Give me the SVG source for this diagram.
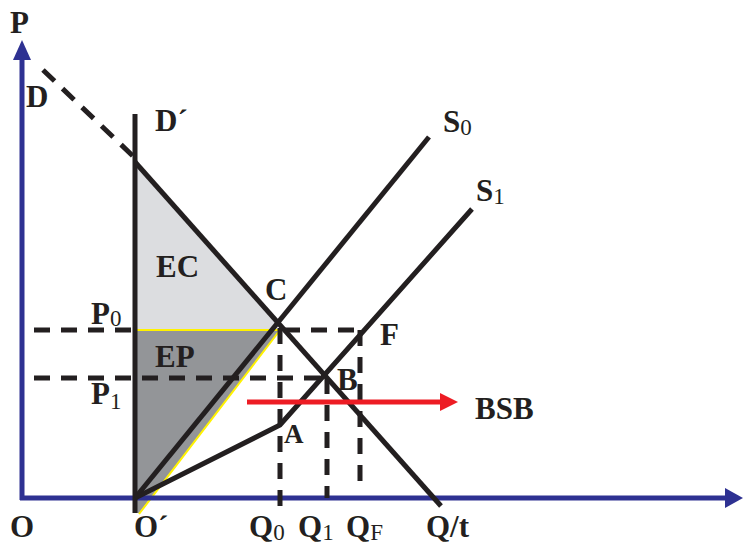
<svg xmlns="http://www.w3.org/2000/svg" width="743" height="546" viewBox="0 0 743 546">
<style>
.lbl{font-family:"Liberation Serif","Times New Roman",serif;font-weight:bold;font-size:31px;fill:#231f20}
.sub{font-weight:normal;font-size:23px}
.ln{stroke:#231f20;stroke-width:5;fill:none;stroke-linecap:butt}
.dash{stroke:#231f20;stroke-width:5;fill:none;stroke-dasharray:16 11}
.axis{stroke:#2e3192;stroke-width:5;fill:none}
</style>
<defs>
<marker id="redhead" markerWidth="18" markerHeight="18" refX="0" refY="9" orient="auto" markerUnits="userSpaceOnUse">
<polygon points="0,0 18,9 0,18" fill="#ed1c24"/>
</marker>
</defs>
<rect width="743" height="546" fill="#ffffff"/>
<g id="region-EC">
<polygon points="135,162 279,324 277,329 135,329" fill="#dcdde0"/>
</g>
<g id="region-EP">
<polygon points="135,330 280,330 139,513 135,513" fill="#939598"/>
<polyline points="135,330 280,330 139,514" fill="none" stroke="#fff200" stroke-width="2"/>
</g>
<g id="connectors">
<line class="axis" x1="22" y1="500" x2="22" y2="58"/>
<polygon points="22,40 13,60 31,60" fill="#2e3192"/>
<line class="axis" x1="20" y1="498" x2="726" y2="498"/>
<polygon points="743,498 725,488 725,508" fill="#2e3192"/>
<line class="dash" x1="43" y1="70" x2="135" y2="158"/>
<line class="ln" x1="135" y1="114" x2="135" y2="513"/>
<line class="ln" x1="135" y1="162" x2="441" y2="506"/>
<line class="ln" x1="135" y1="498" x2="429" y2="137"/>
<polyline class="ln" points="135,498 280,425 472,209"/>
<line class="dash" x1="34" y1="330" x2="135" y2="330"/>
<line class="dash" x1="284" y1="330" x2="362" y2="330"/>
<line class="dash" x1="34" y1="378" x2="326" y2="378"/>
<line class="dash" x1="280" y1="328" x2="280" y2="513"/>
<line class="dash" x1="327" y1="378" x2="327" y2="498"/>
<line class="dash" x1="360" y1="330" x2="360" y2="486"/>
<line x1="247" y1="402" x2="440" y2="402" stroke="#ed1c24" stroke-width="5" marker-end="url(#redhead)"/>
</g>
<g id="label-P"><text class="lbl" x="10" y="33">P</text></g>
<g id="label-D"><text class="lbl" x="26" y="107">D</text></g>
<g id="label-Dprime"><text class="lbl" x="155" y="131">D´</text></g>
<g id="label-EC"><text class="lbl" x="156" y="277">EC</text></g>
<g id="label-C"><text class="lbl" x="265" y="300">C</text></g>
<g id="label-P0"><text class="lbl" x="91" y="324">P<tspan class="sub" dy="2">0</tspan></text></g>
<g id="label-EP"><text class="lbl" x="155" y="367">EP</text></g>
<g id="label-P1"><text class="lbl" x="91" y="404">P<tspan class="sub" dy="5">1</tspan></text></g>
<g id="label-F"><text class="lbl" x="380" y="345">F</text></g>
<g id="label-B"><text class="lbl" x="337" y="390">B</text></g>
<g id="label-A"><text class="lbl" x="284" y="443" style="font-size:27px">A</text></g>
<g id="label-BSB"><text class="lbl" x="475" y="419">BSB</text></g>
<g id="label-S0"><text class="lbl" x="443" y="132">S<tspan class="sub" dy="3">0</tspan></text></g>
<g id="label-S1"><text class="lbl" x="476" y="201">S<tspan class="sub" dy="3">1</tspan></text></g>
<g id="label-O"><text class="lbl" x="10" y="537">O</text></g>
<g id="label-Oprime"><text class="lbl" x="134" y="537">O´</text></g>
<g id="label-Q0"><text class="lbl" x="249" y="537">Q<tspan class="sub" dy="3">0</tspan></text></g>
<g id="label-Q1"><text class="lbl" x="298" y="537">Q<tspan class="sub" dy="3">1</tspan></text></g>
<g id="label-QF"><text class="lbl" x="346" y="537">Q<tspan class="sub" dy="3">F</tspan></text></g>
<g id="label-Qt"><text class="lbl" x="426" y="537">Q/t</text></g>
</svg>
